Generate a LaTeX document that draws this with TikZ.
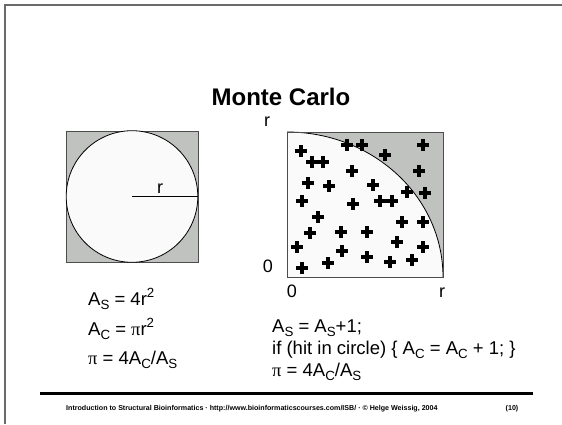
\documentclass[tikz,border=0pt]{standalone}
\usepackage{fontspec}
\setmainfont{Liberation Sans}
\newfontfamily\grkfont{Liberation Serif}
\usepackage{graphicx}
\usetikzlibrary{positioning}

\definecolor{boxgray}{HTML}{C0C2C0}
\definecolor{paper}{HTML}{FAFAFA}
\definecolor{framegray}{HTML}{6A6A6A}

\newcommand\lowidx[1]{\raisebox{-0.22em}{\scalebox{0.72}{#1}}}
\newcommand\upidx[1]{\raisebox{0.38em}{\scalebox{0.72}{#1}}}
\newcommand\grkpi{{\grkfont π}}

\begin{document}
\begin{tikzpicture}[
        x=1pt, y=-1pt,
        title/.style={font=\fontsize{24}{26}\selectfont\bfseries, inner sep=0pt, anchor=base},
        body/.style={font=\fontsize{18.5}{20}\selectfont, inner sep=0pt, anchor=base west},
        axis label/.style={font=\fontsize{18}{19}\selectfont, inner sep=0pt, anchor=base},
        foot/.style={font=\fontsize{7.1}{8}\selectfont\bfseries, inner sep=0pt, anchor=base west},
        edge/.style={draw=black!70, line width=0.8pt},
        hit/.style={line width=3.2pt}
    ]
        \useasboundingbox (0,0) rectangle (562,424);
        \draw[framegray, line width=1.4pt] (5,424) -- (5,5) -- (562,5);

        \node[title] (ttl) at (281,105) {Monte Carlo};

        % square with inscribed circle
        \coordinate (lc) at (132,196.5);
        \draw[edge, fill=boxgray] (66,131) rectangle (198,262);
        \draw[line width=0.8pt, fill=paper] (lc) circle [radius=65.8];
        \draw[line width=0.8pt] (lc) -- ++(66,0);
        \node[axis label] (lr) at (160,193) {r};

        % quarter circle with random hits
        \coordinate (o) at (287,277);
        \fill[boxgray] (287,132) rectangle (443,277);
        \fill[paper] (o) -- (287,132) arc[start angle=-90, end angle=0, x radius=156, y radius=145] -- cycle;
        \draw[line width=0.8pt] (287,132) arc[start angle=-90, end angle=0, x radius=156, y radius=145];
        \draw[edge] (287,132) rectangle (443,277);
        \foreach \x/\y in {301/151, 312/162, 323/162, 347/145, 362/145, 385/155, 423/145,
                352/171, 419/171, 308/183, 329/186, 373/185, 407/192, 425/193,
                302/201, 353/204, 380/201, 392/201, 318/217, 402/222, 423/222,
                310/233, 341/232, 367/232, 397/242, 423/247, 297/247, 342/251,
                328/263, 302/268, 367/257, 390/262, 412/260}
            \draw[hit] (\x-6,\y) -- (\x+6,\y) (\x,\y-6) -- (\x,\y+6);

        \node[axis label] (ytop) at (267,126) {r};
        \node[axis label] (yzero) at (268,272) {0};
        \node[axis label] (xzero) at (292,297) {0};
        \node[axis label] (xr) at (442,297) {r};

        % formulas
        \node[body] (as) at (88,305) {A\lowidx{S} = 4r\upidx{2}};
        \node[body] (ac) at (88,335) {A\lowidx{C} = \grkpi r\upidx{2}};
        \node[body] (pil) at (88,364) {\grkpi\ = 4A\lowidx{C}/A\lowidx{S}};

        \node[body] (inc) at (272,332) {A\lowidx{S} = A\lowidx{S}+1;};
        \node[body] (test) at (272,354) {if (hit in circle) \{ A\lowidx{C} = A\lowidx{C} + 1; \}};
        \node[body] (pir) at (272,376) {\grkpi\ = 4A\lowidx{C}/A\lowidx{S}};

        % footer
        \draw[line width=3pt] (40,393) -- (533,393);
        \node[foot] (credit) at (66,410) {Introduction to Structural Bioinformatics · http://www.bioinformaticscourses.com/ISB/ · © Helge Weissig, 2004};
        \node[foot, anchor=base] (page) at (512,410) {(10)};
    \end{tikzpicture}
\end{document}
